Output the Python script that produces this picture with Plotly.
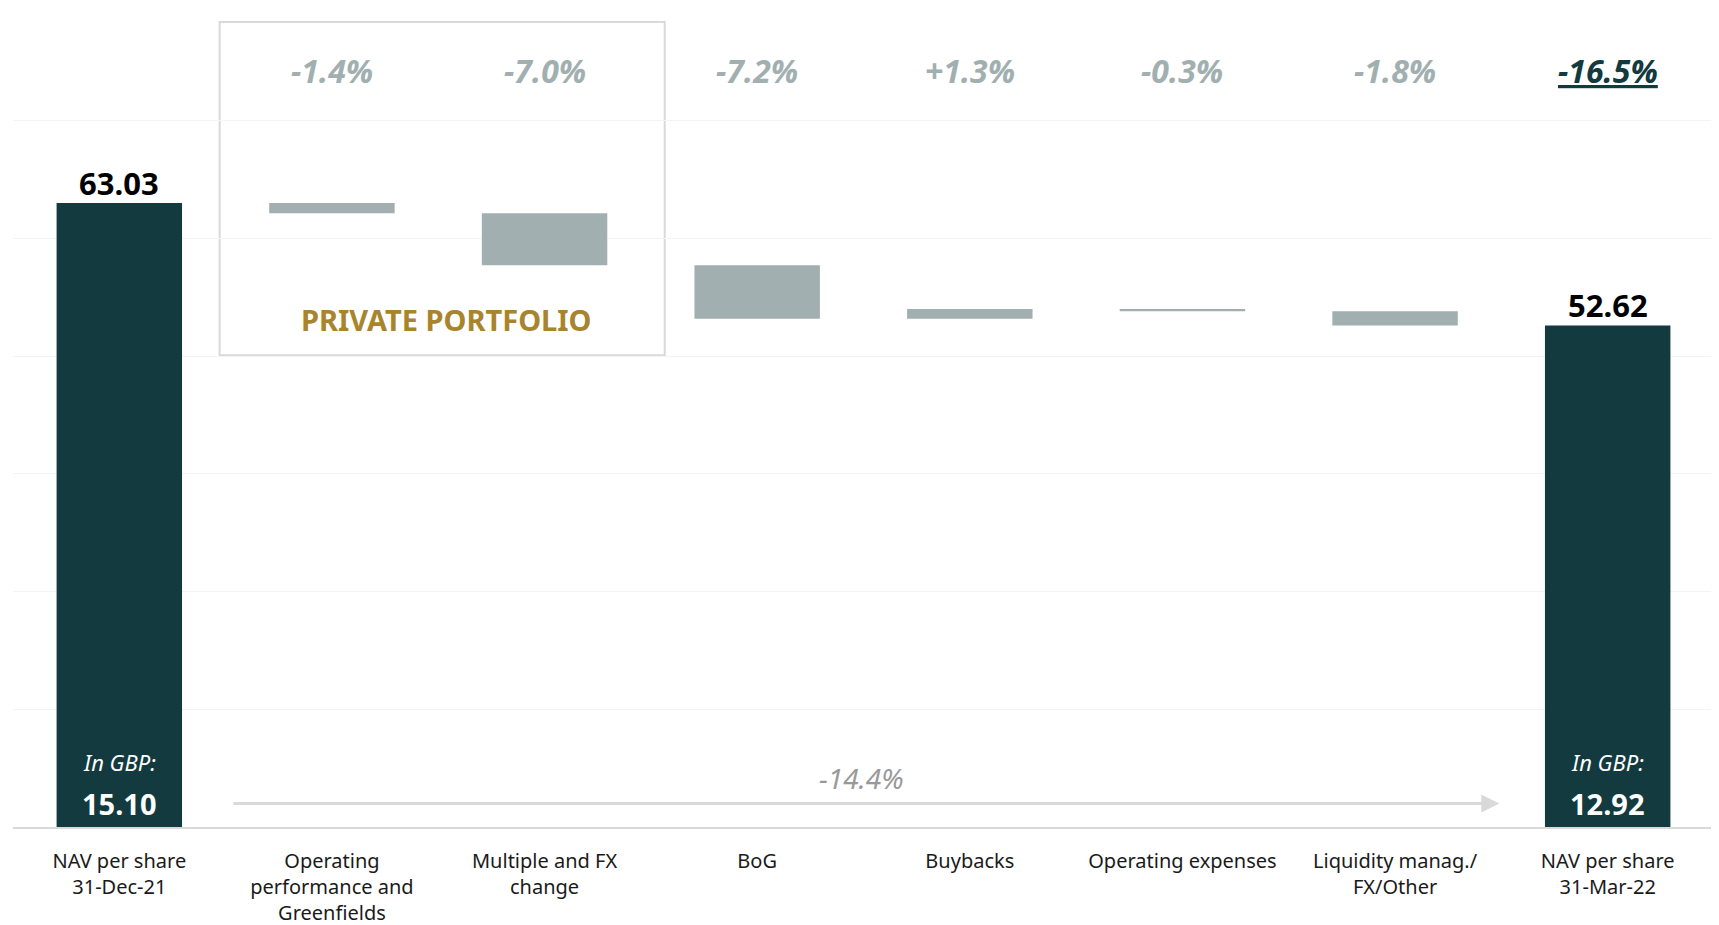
import plotly.graph_objects as go

categories = ["NAV per share<br>31-Dec-21", "Operating<br>performance and<br>Greenfields",
              "Multiple and FX<br>change", "BoG", "Buybacks", "Operating expenses",
              "Liquidity manag./<br>FX/Other", "NAV per share<br>31-Mar-22"]
measures = ["absolute", "relative", "relative", "relative", "relative", "relative", "relative", "total"]
values = [63.03, -0.88, -4.41, -4.54, 0.82, -0.19, -1.21, 0]
pct_labels = ["-1.4%", "-7.0%", "-7.2%", "+1.3%", "-0.3%", "-1.8%"]
total_pct = "-16.5%"
nav_labels = ["63.03", "52.62"]
nav_levels = [63.03, 52.62]
gbp_labels = ["15.10", "12.92"]
gbp_change = "-14.4%"

DARK = "#133A3E"
GREY = "#A2AFB1"
GOLD = "#A8842D"
FONT = "Noto Sans"

fig = go.Figure(go.Waterfall(
    x=list(range(len(categories))),
    measure=measures,
    y=values,
    width=0.59,
    increasing=dict(marker=dict(color=GREY)),
    decreasing=dict(marker=dict(color=GREY)),
    totals=dict(marker=dict(color=DARK)),
    connector=dict(visible=False),
    textposition="none",
    hoverinfo="skip",
))

ann = []
# percentage labels
for i, t in enumerate(pct_labels):
    ann.append(dict(x=i + 1, y=74.3, text="<b><i>" + t + "</i></b>", showarrow=False,
                    font=dict(family=FONT, size=32, color=GREY)))
ann.append(dict(x=7, y=74.3, text="<b><i>" + total_pct + "</i></b>", showarrow=False,
                font=dict(family=FONT, size=32, color=DARK, lineposition="under")))
# NAV labels
for xi, lvl, t in zip([0, 7], nav_levels, nav_labels):
    ann.append(dict(x=xi, y=lvl, text="<b>" + t + "</b>", showarrow=False, yanchor="bottom",
                    yshift=-3, font=dict(family=FONT, size=31, color="#000000")))
# In GBP labels
for xi, t in zip([0, 7], gbp_labels):
    ann.append(dict(x=xi, y=15.5, text="<i>In GBP:</i>", showarrow=False,
                    font=dict(family=FONT, size=22, color="#FFFFFF")))
    ann.append(dict(x=xi, y=12.0, text="<b>" + t + "</b>", showarrow=False,
                    font=dict(family=FONT, size=29, color="#FFFFFF")))
# arrow
ann.append(dict(x=6.49, y=12.0, ax=0.53, ay=12.0, xref="x", yref="y", axref="x", ayref="y",
                text="", showarrow=True, arrowhead=2, arrowsize=1.2, arrowwidth=3,
                arrowcolor="#D9D9D9"))
ann.append(dict(x=3.49, y=14.2, text="<i>" + gbp_change + "</i>", showarrow=False,
                font=dict(family=FONT, size=28, color="#999999")))
# private portfolio
ann.append(dict(x=1.54, y=53.1, text="<b>PRIVATE PORTFOLIO</b>", showarrow=False,
                font=dict(family=FONT, size=29, color=GOLD)))

fig.update_layout(
    width=1711, height=917,
    margin=dict(l=5, r=5, t=0, b=98),
    paper_bgcolor="white", plot_bgcolor="white",
    showlegend=False,
    annotations=ann,
    shapes=[dict(type="rect", xref="x", yref="y", x0=0.472, x1=2.565, y0=50.1, y1=78.4,
                 line=dict(color="#D9D9D9", width=2), fillcolor="rgba(0,0,0,0)", layer="below")],
    xaxis=dict(tickmode="array", tickvals=list(range(len(categories))), ticktext=categories,
               range=[-0.5, 7.5], showgrid=False, zeroline=False, automargin=False,
               showline=True, linecolor="#D9D9D9", linewidth=2,
               ticks="", ticklabelstandoff=15,
               tickfont=dict(family=FONT, size=20, color="#1A1A1A")),
    yaxis=dict(range=[10, 79.6], dtick=10, tick0=0, showgrid=True, gridcolor="#F4F4F4",
               gridwidth=1, zeroline=False, showticklabels=False, showline=False,
               automargin=False),
)

fig.write_html("out.html")
